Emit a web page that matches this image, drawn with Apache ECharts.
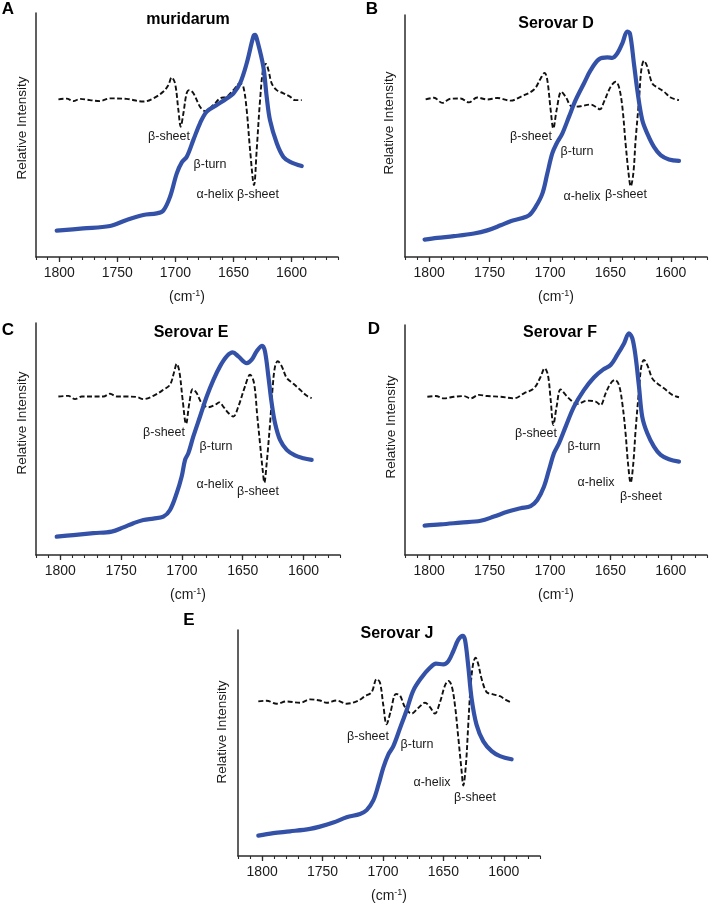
<!DOCTYPE html>
<html>
<head>
<meta charset="utf-8">
<script src="https://cdn.jsdelivr.net/npm/echarts@6/dist/echarts.min.js"></script>
<style>
html,body{margin:0;padding:0;background:#fff;}
#chart{width:709px;height:904px;}
</style>
</head>
<body>
<div id="chart"></div>
<script>
// ---------- DATA (wavenumber cm-1, relative intensity 0-100 of plot height) ----------
const tickLabels = [1600, 1650, 1700, 1750, 1800];

// A: muridarum
const aSpecWn  = [1802.2,1779.3,1756.3,1741.9,1727.6,1716.1,1710.4,1704.6,1698.8,1694.5,1690.2,1684.5,1678.8,1673,1664.4,1655.8,1650.1,1644.3,1638.6,1632.9,1631.4,1630,1624.3,1621.4,1618.5,1612.7,1607,1601.2,1591.2];
const aSpecVal = [10.8,11.7,12.7,15.2,17.2,17.9,19.0,24.7,34.3,38.8,41.1,48,54.8,59.6,62.3,65,67,71.2,79.4,90.3,91,89.6,78,65.7,56,46.6,41,39,37.3];
const aDerWn   = [1800.7,1793.6,1787.8,1782.1,1773.5,1764.9,1756.3,1741.9,1727.6,1719,1710.3,1706,1703.2,1700.3,1697.4,1695.4,1693.1,1690.3,1688,1684.5,1678.8,1674.5,1667.3,1661.6,1655.8,1650.1,1644.3,1641.5,1638.6,1635.7,1632.3,1630,1627.1,1624.2,1622,1619.9,1617.1,1612.8,1607,1601.3,1597,1591.2];
const aDerVal  = [64.6,64.9,63.9,64.8,64.3,63.9,65,64.8,63.7,65,67.8,70.5,73.6,71.2,60.2,53.4,58.9,67.1,68.4,67.1,61.6,59.8,62.3,65,65.7,68.4,71.2,69.8,60.2,43.9,29.5,43.9,64.3,78,79.1,76.6,71.2,68.4,67.1,65.7,64.3,64.3];

// B: Serovar D
const bSpecWn  = [1803.8,1793.3,1779.5,1762.9,1751.9,1740.8,1732.6,1724.3,1717.4,1711.9,1706.3,1702.2,1698.1,1694.5,1689.8,1684.3,1678.8,1671.9,1666.3,1659.4,1652.5,1648.4,1644.3,1640.1,1636,1633.8,1630.5,1627.7,1623.6,1619.4,1613.9,1608.4,1601.5,1593.2];
const bSpecVal = [7.2,7.9,8.6,9.7,11,13.1,14.8,15.9,17.2,20.7,26.2,34.5,42.8,46.9,51,57.9,64.8,71.7,77.2,81.7,82.5,82.3,84.1,88.3,93.1,92.4,80,69,56.6,51,45.5,42.1,40.3,39.7];
const bDerWn   = [1802.9,1796,1789.1,1782.2,1774,1767.1,1760.2,1751.9,1743.6,1732.6,1724.3,1713.2,1707.7,1704.4,1702.2,1699.4,1697.2,1694.5,1690.6,1687,1681.5,1674.6,1666.3,1662.2,1658.6,1655.3,1649.8,1645.6,1642.9,1640.1,1637.4,1634.6,1633.2,1631,1629.1,1626.3,1624.4,1622.2,1619.4,1615.3,1611.1,1605.6,1600.1,1593.2];
const bDerVal  = [65.1,65.8,63.7,65.4,65.5,63.9,65.9,65.1,65.7,64.6,66.2,69.2,73.8,76.1,73.1,60.7,53.1,60.7,68.3,66.2,62.1,62.3,63,62.1,61,64.1,70.3,72.4,70.3,62.1,46.9,33.1,29.2,34.5,48.3,64.8,77.2,81.1,78.6,71.7,70.1,68.3,65.9,64.8];

// C: Serovar E
const cSpecWn  = [1803,1789.3,1772.8,1757.8,1748.2,1739.9,1731.7,1723.5,1715.3,1709.8,1704.3,1700.2,1697.4,1694.7,1690.6,1685.1,1679.6,1674.1,1668.7,1663.2,1658.2,1653.6,1646.7,1642.6,1638.5,1634,1631.7,1628.9,1626.2,1623.4,1619.3,1613.8,1607,1600.1,1593.3];
const cSpecVal = [7.9,8.6,9.4,10.1,11.9,13.7,15.1,15.7,16.5,19.4,26.6,33.8,41,43.9,51.1,59.7,68.3,75.5,81.3,85.6,87.3,85.6,82.7,84.2,87.8,90.2,87.8,77,65.5,56.8,49.6,45.3,42.9,41.7,41];
const cDerWn   = [1801.6,1793.4,1787.9,1782.4,1772.8,1764.6,1759.1,1753.6,1745.4,1737.2,1731.7,1723.5,1715.3,1709.8,1706.5,1704.3,1702.1,1699.4,1696.6,1693.9,1691.1,1687.9,1683.7,1678.3,1672.8,1669.2,1666,1661.8,1657.7,1653.6,1648.1,1644,1640.7,1638,1635.8,1633.6,1632.2,1630.3,1627.5,1625.3,1623.4,1621.2,1617.9,1613.8,1608.3,1602.8,1597.3,1593.3];
const cDerVal  = [68.3,68.6,67.2,68.3,68.3,68.3,69.5,68.3,68.3,68.1,67.2,68.6,71.2,73.4,78.7,82.4,79.1,66.9,56.5,65.5,71.5,69.8,65.5,63.7,64.7,65.8,64,61.2,59.7,64,72.7,77.7,74.1,59.7,48.2,36.7,31.2,39.6,56.8,72.7,81.3,83.5,81.3,76.3,73.8,71.2,68.6,67.6];

// D: Serovar F
const dSpecWn  = [1803.8,1790.5,1774,1757.4,1746.4,1735.3,1724.3,1716,1710.5,1705,1700.8,1696.7,1692.5,1687,1680.1,1671.9,1663.6,1655.8,1649.8,1644.3,1638.7,1634.6,1631.8,1629.1,1626.3,1623.6,1619.4,1613.9,1608.4,1601.5,1593.2];
const dSpecVal = [12.8,13.3,14.1,14.9,16.7,18.8,20.3,21.3,23.9,29.7,37,44.2,48.6,55.8,64.5,71.7,77.2,80.7,82.6,87,92,96.4,94.2,86.2,73.2,60.1,52.9,47.1,43.5,41.6,40.6];
const dDerWn   = [1801.5,1794.6,1787.7,1779.5,1771.2,1765.7,1758.8,1751.9,1740.8,1729.8,1721.5,1713.2,1707.7,1704.4,1701.7,1699.4,1697.2,1694.5,1691.2,1687,1682.9,1677.4,1669.1,1662.2,1658.1,1653.9,1649.8,1646.2,1642.9,1640.1,1637.4,1635.4,1633.2,1631,1629.1,1626.3,1624.4,1622.2,1619.4,1615.3,1611.1,1605.6,1598.7,1593.2];
const dDerVal  = [68.8,69.1,68.1,68.8,69.1,68.1,69.6,69.1,68.8,68.1,70.3,72.5,77.5,81.2,78.3,67.4,56.5,64.5,72,69.6,67.4,65.7,67.1,66.7,65.2,70.3,74.6,76.1,73.9,65.9,52.9,39.9,31.4,39.9,54.3,71.7,81.9,84.8,82.6,76.8,74.6,72.5,69.6,68.6];

// E: Serovar J
const eSpecWn  = [1803.2,1790.8,1777,1760.4,1752.2,1741.1,1730.1,1719,1713.5,1708,1703.9,1699.7,1695.6,1691.4,1685.9,1680.4,1674.9,1668,1661.1,1656.1,1650.1,1645.9,1641.8,1637.6,1634,1632.1,1629.4,1626.6,1622.5,1616.9,1610,1603.1,1593.5];
const eSpecVal = [9,10.1,10.9,12,13,14.8,17.1,18.6,20.3,24.6,31.2,39.1,44.9,48.6,56.5,64.5,73.2,79,83.3,85.1,84.8,86.2,90.6,95.7,97.4,95.7,84.1,69.6,58,50.7,46.4,44.2,42.8];
const eDerWn   = [1803.2,1796.3,1788,1779.7,1768.7,1760.4,1752.2,1746.6,1738.4,1730.1,1721.8,1714.9,1709.4,1705.2,1702.5,1699.7,1697,1693.7,1689.2,1685.9,1681.8,1676.3,1670.8,1665.2,1661.1,1657,1652.8,1648.7,1645.9,1643.2,1640.4,1637.6,1634.9,1633.5,1631.3,1629.4,1627.4,1625.2,1623.3,1621.1,1618.3,1614.2,1610,1603.1,1599,1593.5];
const eDerVal  = [68.4,68.7,67.4,68.4,67.8,69.3,68.8,67.8,68.8,67.4,68.4,70.7,72.5,78.3,76.8,66.7,58.3,63.8,71.7,71,65.9,63,65.5,67.8,65.9,63,68.1,75.4,77.5,75.4,66.7,52.2,37.7,31.2,40.6,58,75.4,85.5,87.7,84.8,78.3,72.5,71.7,70.7,69.3,67.8];

const panelLetters = ['A','B','C','D','E'];
const panelTitles  = ['muridarum','Serovar D','Serovar E','Serovar F','Serovar J'];
const bandNames    = ['β-sheet','β-turn','α-helix','β-sheet'];

// ---------- LAYOUT ----------
const FONT = '"Liberation Sans", Arial, Helvetica, sans-serif';
const layout = [
  {grid:{left:36, top:13, width:302, height:244}, xr:[1560,1820], letter:[8,9], title:[188,20], ylab:[22,128],
   bands:[[169,137],[210,165],[215,195],[258,195]]},
  {grid:{left:405, top:15, width:302, height:242}, xr:[1570,1820], letter:[372,9], title:[556,24], ylab:[389,123],
   bands:[[531,137],[577,152],[582,197],[626,195]]},
  {grid:{left:36, top:323, width:304, height:232}, xr:[1570,1820], letter:[8,330], title:[191,333], ylab:[22,423],
   bands:[[164,433],[216,447],[215,485],[258,492]]},
  {grid:{left:405, top:325, width:302, height:230}, xr:[1570,1820], letter:[374,329], title:[560,333], ylab:[391,427],
   bands:[[536,434],[584,447],[596,483],[641,497]]},
  {grid:{left:238, top:630, width:302, height:230}, xr:[1570,1820], letter:[189,620], title:[397,634], ylab:[222,732],
   bands:[[368,737],[417,745],[432,783],[475,798]]}
];
const spectra = [
  [aSpecWn, aSpecVal, aDerWn, aDerVal],
  [bSpecWn, bSpecVal, bDerWn, bDerVal],
  [cSpecWn, cSpecVal, cDerWn, cDerVal],
  [dSpecWn, dSpecVal, dDerWn, dDerVal],
  [eSpecWn, eSpecVal, eDerWn, eDerVal]
];

const grids = [], xAxes = [], yAxes = [], series = [], graphics = [];
const axisColor = '#2b2b2b';

layout.forEach((L, i) => {
  grids.push(Object.assign({containLabel:false}, L.grid));
  const minor = [];
  for (let v = L.xr[0]; v <= L.xr[1]; v += 10) minor.push(v);
  xAxes.push({
    type:'value', gridIndex:i, min:L.xr[0], max:L.xr[1], inverse:true, position:'bottom',
    axisLine:{show:true, onZero:false, lineStyle:{color:axisColor, width:1.5}},
    axisTick:{show:true, customValues:tickLabels, length:5, lineStyle:{color:axisColor, width:1.3}},
    axisLabel:{customValues:tickLabels, fontSize:14, color:'#1a1a1a', margin:9, fontFamily:FONT,
      formatter: v => String(v)},
    splitLine:{show:false},
    name:'(cm{sup|-1})', nameLocation:'middle', nameGap:32,
    nameTextStyle:{fontSize:14, color:'#1a1a1a', fontFamily:FONT,
      rich:{sup:{fontSize:9, verticalAlign:'top', lineHeight:16, fontFamily:FONT, color:'#1a1a1a'}}}
  });
  xAxes.push({
    type:'value', gridIndex:i, min:L.xr[0], max:L.xr[1], inverse:true, position:'bottom',
    axisLine:{show:false, onZero:false},
    axisTick:{show:true, customValues:minor, length:3, lineStyle:{color:axisColor, width:1.1}},
    axisLabel:{show:false}, splitLine:{show:false}
  });
  yAxes.push({
    type:'value', gridIndex:i, min:0, max:100,
    axisLine:{show:true, lineStyle:{color:axisColor, width:1.5}},
    axisTick:{show:false}, axisLabel:{show:false}, splitLine:{show:false}
  });
  const [sw, sv, dw, dv] = spectra[i];
  series.push({
    type:'line', xAxisIndex:2*i, yAxisIndex:i, showSymbol:false, smooth:0.35, silent:true,
    data: dw.map((w, k) => [w, dv[k]]),
    lineStyle:{color:'#111', width:1.9, type:[5,2.5]}
  });
  series.push({
    type:'line', xAxisIndex:2*i, yAxisIndex:i, showSymbol:false, smooth:0.35, silent:true,
    data: sw.map((w, k) => [w, sv[k]]),
    lineStyle:{color:'#3451a8', width:4.2, cap:'round', join:'round'}
  });
  graphics.push({type:'text', x:L.letter[0], y:L.letter[1],
    style:{text:panelLetters[i], font:'bold 17px ' + FONT, fill:'#000', align:'center', verticalAlign:'middle'}});
  graphics.push({type:'text', x:L.title[0], y:L.title[1],
    style:{text:panelTitles[i], font:'bold 16px ' + FONT, fill:'#000', align:'center', verticalAlign:'middle'}});
  graphics.push({type:'text', x:L.ylab[0], y:L.ylab[1], rotation:Math.PI/2,
    style:{text:'Relative Intensity', font:'13.5px ' + FONT, fill:'#1a1a1a', align:'center', verticalAlign:'middle'}});
  L.bands.forEach((p, k) => {
    graphics.push({type:'text', x:p[0], y:p[1],
      style:{text:bandNames[k], font:'12.5px ' + FONT, fill:'#1a1a1a', align:'center', verticalAlign:'middle'}});
  });
});

const chart = echarts.init(document.getElementById('chart'), null, {renderer:'canvas'});
chart.setOption({
  backgroundColor:'#ffffff',
  animation:false,
  grid:grids, xAxis:xAxes, yAxis:yAxes, series:series, graphic:graphics
});
</script>
</body>
</html>
